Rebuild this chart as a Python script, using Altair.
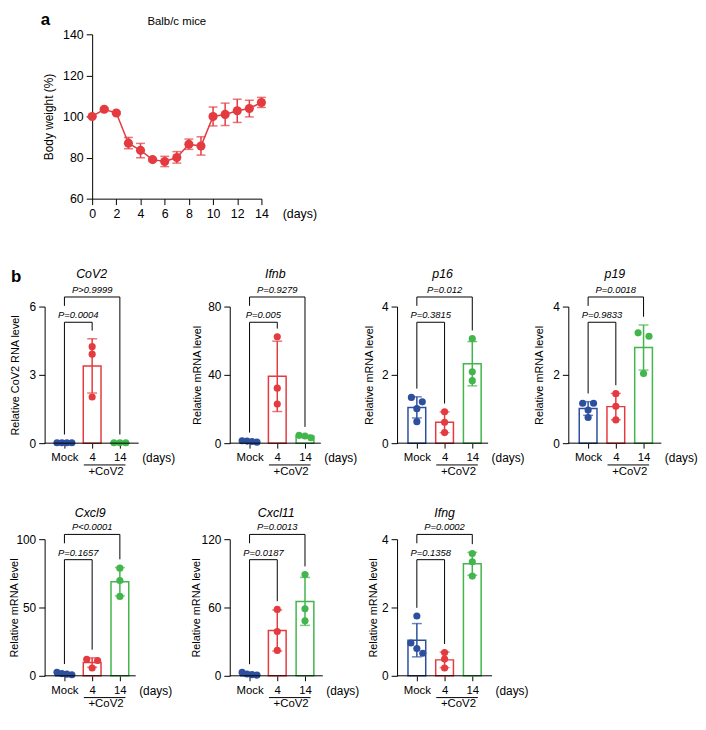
import altair as alt
import numpy as np
import pandas as pd

FONT = "Liberation Sans"
BLUE = "#2d4f9e"
RED = "#e33b3f"
GREEN = "#42b54c"

# ---------------- panel a: body weight ----------------
days = list(range(15))
weight_mean = [100.0, 103.5, 101.7, 87.0, 83.5, 79.0, 78.1, 80.0, 86.5, 85.6, 100.0, 101.0, 102.8, 103.9, 106.8]
weight_low = [100.0, 102.9, 101.1, 84.3, 79.9, 78.3, 75.6, 77.3, 84.0, 81.2, 95.4, 95.6, 97.1, 99.8, 104.4]
weight_high = [100.0, 104.1, 102.3, 89.8, 86.9, 79.7, 80.6, 82.9, 89.0, 90.1, 104.6, 106.5, 108.4, 107.9, 109.3]

# ---------------- panel b: expression ----------------
groups = ["Mock", "4", "14"]
group_colors = [BLUE, RED, GREEN]
genes = ["CoV2", "Ifnb", "p16", "p19", "Cxcl9", "Cxcl11", "Ifng"]
y_titles = ["Relative CoV2 RNA level"] + ["Relative mRNA level"] * 6
y_max = [6, 80, 4, 4, 100, 120, 4]
y_ticks = [[0, 3, 6], [0, 40, 80], [0, 2, 4], [0, 2, 4], [0, 50, 100], [0, 60, 120], [0, 2, 4]]
p_mock_vs_4 = ["P=0.0004", "P=0.005", "P=0.3815", "P=0.9833", "P=0.1657", "P=0.0187", "P=0.1358"]
p_mock_vs_14 = ["P>0.9999", "P=0.9279", "P=0.012", "P=0.0018", "P<0.0001", "P=0.0013", "P=0.0002"]
mock_vals = [
    [0.02, 0.02, 0.02, 0.02],
    [0.6, 1.4, 1.0, 1.2],
    [1.21, 1.34, 1.01, 0.63],
    [1.17, 1.17, 0.97, 0.75],
    [0.8, 2.6, 1.2, 1.6],
    [1.0, 3.0, 0.6, 1.6],
    [1.75, 0.96, 0.80, 0.66],
]
day4_vals = [
    [4.24, 3.91, 2.03],
    [62.3, 32.2, 22.9],
    [0.92, 0.61, 0.31],
    [1.45, 1.08, 0.68],
    [12.1, 11.2, 5.7],
    [58.3, 38.9, 22.3],
    [0.68, 0.49, 0.23],
]
day14_vals = [
    [0.02, 0.02, 0.02],
    [3.2, 4.6, 4.2],
    [3.06, 2.09, 1.83],
    [3.23, 3.13, 2.04],
    [78.8, 69.8, 58.1],
    [88.9, 58.9, 48.3],
    [3.58, 3.34, 2.92],
]

# ---------------- layout constants ----------------
H = 138
STEP = 28
X0 = 20
col_w = [187, 169, 173, 94]
view_w = [187, 169, 173, 94, 187, 169, 173]
axis_w = [95, 92, 92, 94, 92, 94, 96]
ytitle_x = [-29, -33, -28, -29, -30, -34, -24]
row_of = [1, 1, 1, 1, 2, 2, 2]
title_dy = {1: -33, 2: -26}
inner_f = {1: 0.885, 2: 0.85}
outer_f = {1: 1.07, 2: 1.035}
ROW_GAP = 97
PA_SHIFT = 48
PA_W, PA_H = 171, 166
ROW0_H = PA_H + 109 - ROW_GAP


def swarm_offsets(vals, ppu):
    order = sorted(range(len(vals)), key=lambda k: -vals[k])
    bins = []
    for k in order:
        if bins and abs(vals[bins[-1][-1]] - vals[k]) * ppu < 6:
            bins[-1].append(k)
        else:
            bins.append([k])
    spread = {1: 0, 2: 11, 3: 6, 4: 5}
    offs = [0.0] * len(vals)
    for b in bins:
        n = len(b)
        sp = spread.get(n, 5)
        for j, k in enumerate(b):
            offs[k] = (j - (n - 1) / 2) * sp
    return offs


color_scale = alt.Scale(domain=groups, range=group_colors)
C = alt.Color("group:N", scale=color_scale, legend=None)
label_expr = "[" + ",".join(f"'{g}'" for g in groups) + "][datum.value]"


def make_panel(i):
    row = row_of[i]
    ymax = y_max[i]
    ppu = H / ymax
    vw, aw = view_w[i], axis_w[i]
    vals = [mock_vals[i], day4_vals[i], day14_vals[i]]

    pts, stats, caps = [], [], []
    for gi, (g, vs) in enumerate(zip(groups, vals)):
        offs = swarm_offsets(vs, ppu)
        for v, o in zip(vs, offs):
            pts.append({"group": g, "value": v, "xp": gi + o / STEP})
        m = float(np.mean(vs))
        s = float(np.std(vs, ddof=1))
        stats.append({"group": g, "gi": gi, "mean": m, "lo": m - s, "hi": m + s,
                      "bx1": gi - 0.32, "bx2": gi + 0.32, "top": max(max(vs), m + s)})
        caps.append({"group": g, "gi": gi, "yv": m - s})
        caps.append({"group": g, "gi": gi, "yv": m + s})
    pts = pd.DataFrame(pts)
    st = pd.DataFrame(stats)
    caps = pd.DataFrame(caps)

    gap = 0.06 * ymax
    h_in = inner_f[row] * ymax
    h_out = outer_f[row] * ymax
    tops = st["top"].tolist()
    br = pd.DataFrame({"xa": [0, 0], "xb": [1, 2], "h": [h_in, h_out],
                       "xm": [0.5, 1.0], "label": [p_mock_vs_4[i], p_mock_vs_14[i]]})
    legs = pd.DataFrame({"x": [0, 1, 0, 2],
                         "ytop": [h_in, h_in, h_out, h_out],
                         "ybot": [tops[0] + gap, tops[1] + gap, h_out - 0.065 * ymax, tops[2] + gap]})
    gidx = {g: k for k, g in enumerate(groups)}
    deco = pd.DataFrame({"um": [(gidx["4"] + gidx["14"]) / 2],
                         "u1": [gidx["4"] - 0.3], "u2": [gidx["14"] + 0.2]})

    xs = alt.Scale(domain=[-X0 / STEP, (vw - X0) / STEP], nice=False, zero=False)
    ys = alt.Scale(domain=[0, ymax], nice=False, zero=False)
    xa = alt.Axis(values=[0, 1, 2], labelExpr=label_expr, domain=False, tickSize=5,
                  labelPadding=4, labelFontSize=11.5, labelFlush=False, labelOverlap=False,
                  title="(days)", titleX=aw + 3, titleY=15, titleAlign="left",
                  titleBaseline="middle", titleFontSize=12, titleFontWeight="normal", grid=False)
    ya = alt.Axis(values=y_ticks[i], title=y_titles[i], titleX=ytitle_x[i], titleBaseline="middle",
                  titleFontSize=11, titleFontWeight="normal", tickSize=6, labelPadding=3,
                  labelFontSize=12, grid=False)

    def X(f):
        return alt.X(f"{f}:Q", scale=xs, axis=xa)

    def Y(f):
        return alt.Y(f"{f}:Q", scale=ys, axis=ya)

    bars = alt.Chart(st).mark_bar(filled=False, strokeWidth=1.5).encode(
        x=X("bx1"), x2="bx2:Q", y=Y("mean"), y2=alt.datum(0), color=C)
    err = alt.Chart(st).mark_rule(strokeWidth=1.5).encode(
        x=X("gi"), y=Y("lo"), y2="hi:Q", color=C)
    cap = alt.Chart(caps).mark_tick(orient="horizontal", size=10, thickness=1.5).encode(
        x=X("gi"), y=Y("yv"), color=C)
    dots = alt.Chart(pts).mark_circle(size=52, opacity=1).encode(
        x=X("xp"), y=Y("value"), color=C)
    hline = alt.Chart(br).mark_rule(color="black", strokeWidth=1).encode(
        x=X("xa"), x2="xb:Q", y=Y("h"))
    vline = alt.Chart(legs).mark_rule(color="black", strokeWidth=1).encode(
        x=X("x"), y=Y("ytop"), y2="ybot:Q")
    ptxt = alt.Chart(br).mark_text(font=FONT, fontStyle="italic", fontSize=9.5,
                                   baseline="bottom", dy=-2).encode(
        x=X("xm"), y=Y("h"), text="label:N")
    title = alt.Chart(deco).mark_text(font=FONT, fontStyle="italic", fontSize=12.5,
                                      baseline="middle").encode(
        x=alt.value(aw / 2), y=alt.value(title_dy[row]), text=alt.value(genes[i]))
    baseline = alt.Chart(deco).mark_rule(color="black", strokeWidth=1).encode(
        x=alt.value(0), x2=alt.value(aw), y=alt.value(H))
    under = alt.Chart(deco).mark_rule(color="black", strokeWidth=1).encode(
        x=X("u1"), x2="u2:Q", y=alt.value(H + 22))
    cov = alt.Chart(deco).mark_text(font=FONT, fontSize=11.5, baseline="middle").encode(
        x=X("um"), y=alt.value(H + 29), text=alt.value("+CoV2"))
    layers = [bars, err, cap, dots, hline, vline, ptxt, title, baseline, under, cov]
    if i == 0:
        blab = alt.Chart(deco).mark_text(font=FONT, fontWeight="bold", fontSize=17,
                                         align="left", baseline="top").encode(
            x=alt.value(-34), y=alt.value(-38), text=alt.value("b"))
        layers.append(blab)
    return alt.layer(*layers).properties(width=vw, height=H)


# ---------------- panel a chart ----------------
wdf = pd.DataFrame({"day": days, "mean": weight_mean, "lo": weight_low, "hi": weight_high})
wcaps = pd.concat([wdf[["day", "lo"]].rename(columns={"lo": "yv"}),
                   wdf[["day", "hi"]].rename(columns={"hi": "yv"})])
xsa = alt.Scale(domain=[0, 14], range=[PA_SHIFT, PA_SHIFT + PA_W], nice=False, zero=False)
ysa = alt.Scale(domain=[60, 140], nice=False, zero=False)
xaa = alt.Axis(values=list(range(0, 15, 2)), tickSize=6, labelPadding=3, labelFontSize=12.5,
               labelFlush=False, labelOverlap=False, title="(days)",
               titleX=PA_SHIFT + PA_W + 21, titleY=15,
               titleAlign="left", titleBaseline="middle", titleFontSize=12.5,
               titleFontWeight="normal", grid=False)
yaa = alt.Axis(values=[60, 80, 100, 120, 140], title="Body weight (%)", titleX=-44,
               titleBaseline="middle", titleFontSize=12, titleFontWeight="normal",
               tickSize=6, labelPadding=3, labelFontSize=12.5, grid=False, offset=-PA_SHIFT)
XA = alt.X("day:Q", scale=xsa, axis=xaa)
line = alt.Chart(wdf).mark_line(color=RED, strokeWidth=1.5).encode(
    x=XA, y=alt.Y("mean:Q", scale=ysa, axis=yaa))
werr = alt.Chart(wdf).mark_rule(color=RED, strokeWidth=1.5).encode(
    x=XA, y=alt.Y("lo:Q", scale=ysa, axis=yaa), y2="hi:Q")
wcap = alt.Chart(wcaps).mark_tick(color=RED, orient="horizontal", size=9, thickness=1.5).encode(
    x=XA, y=alt.Y("yv:Q", scale=ysa, axis=yaa))
wdots = alt.Chart(wdf).mark_circle(color=RED, size=85, opacity=1).encode(
    x=XA, y=alt.Y("mean:Q", scale=ysa, axis=yaa))
adeco = pd.DataFrame({"t": ["Balb/c mice"], "lab": ["a"]})
atitle = alt.Chart(adeco).mark_text(font=FONT, fontSize=11.5, baseline="middle").encode(
    x=alt.value(PA_SHIFT + PA_W / 2), y=alt.value(-12), text="t:N")
alab = alt.Chart(adeco).mark_text(font=FONT, fontWeight="bold", fontSize=17,
                                  align="left", baseline="top").encode(
    x=alt.value(-4), y=alt.value(-22), text="lab:N")
panel_a = alt.layer(line, werr, wcap, wdots, atitle, alab).properties(
    width=col_w[0], height=PA_H)


def filler(h=1):
    return alt.Chart(pd.DataFrame({"v": [0]})).mark_point(opacity=0, size=1).encode(
        x=alt.value(0), y=alt.value(0)).properties(width=1, height=h)


panels = [make_panel(i) for i in range(7)]

chart = alt.concat(
    panel_a, filler(ROW0_H), filler(), filler(), *panels,
    columns=4,
    spacing=alt.RowColnumber(row=ROW_GAP, column=0),
    bounds="flush",
    align="each",
).properties(padding=0).configure_view(stroke=None).configure_axis(
    domainColor="black", tickColor="black", labelColor="black", titleColor="black",
    labelFont=FONT, titleFont=FONT, domainWidth=1, tickWidth=1, grid=False
).configure_text(font=FONT)

chart.save("out.html", embed_options={"renderer": "svg", "actions": False})
